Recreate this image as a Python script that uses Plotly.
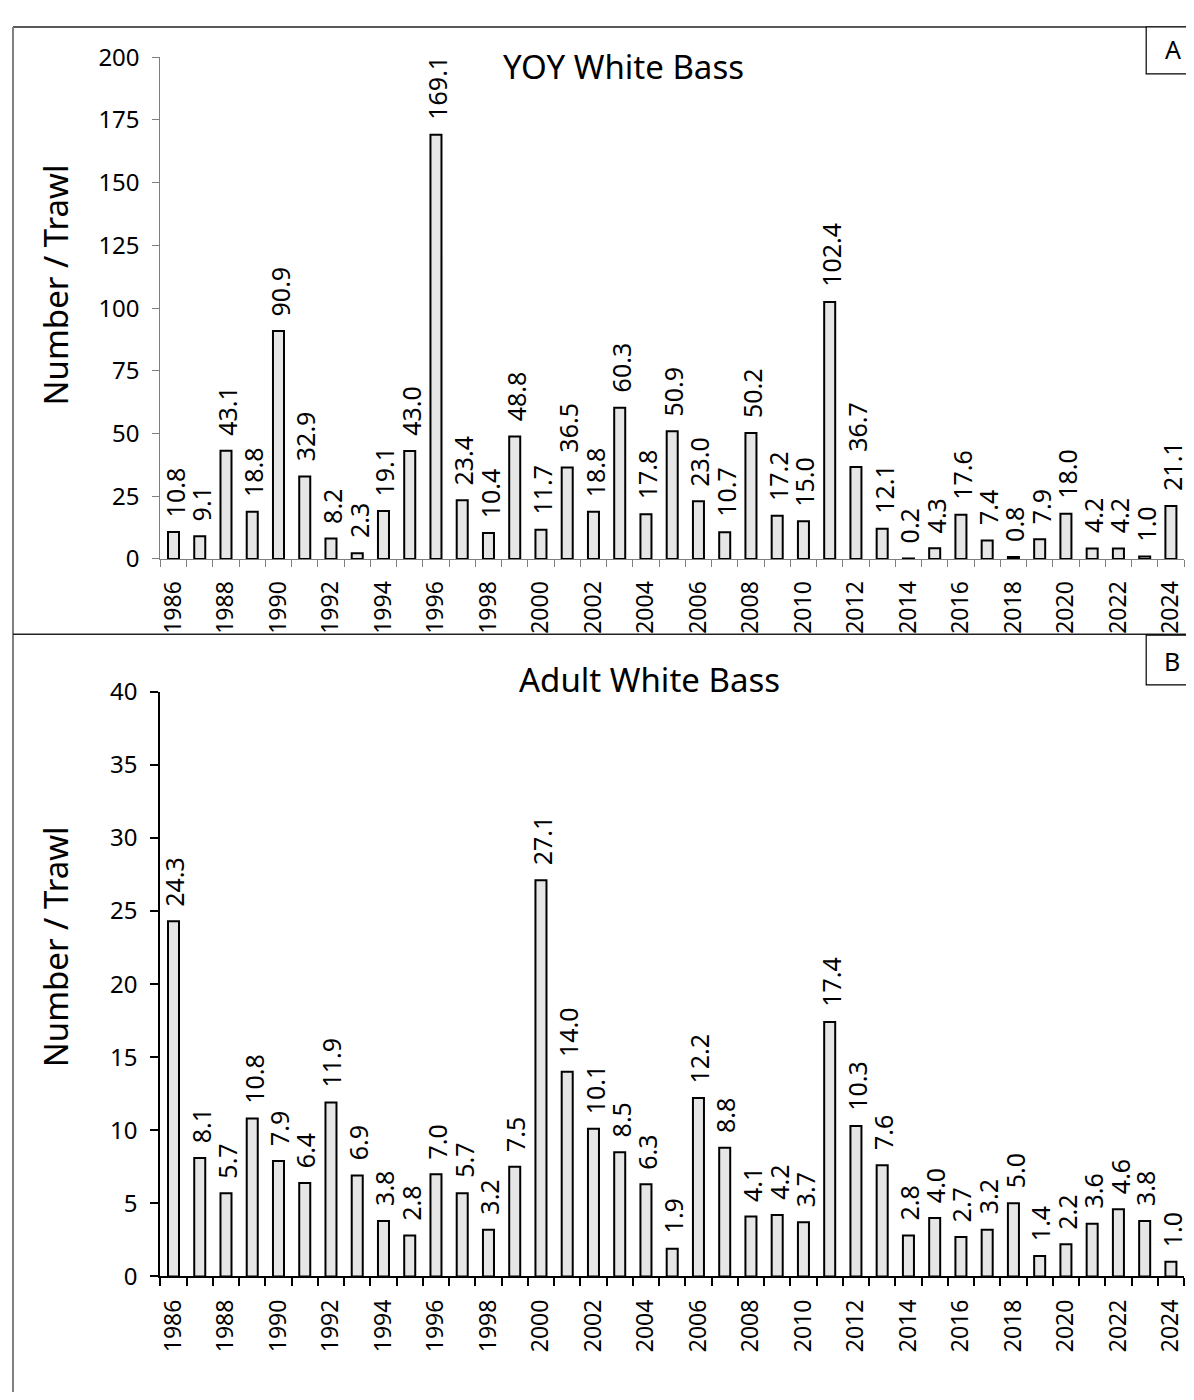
import plotly.graph_objects as go

years = list(range(1986, 2025))
yoy_values = [10.8, 9.1, 43.1, 18.8, 90.9, 32.9, 8.2, 2.3, 19.1, 43.0, 169.1, 23.4, 10.4, 48.8,
              11.7, 36.5, 18.8, 60.3, 17.8, 50.9, 23.0, 10.7, 50.2, 17.2, 15.0, 102.4, 36.7,
              12.1, 0.2, 4.3, 17.6, 7.4, 0.8, 7.9, 18.0, 4.2, 4.2, 1.0, 21.1]
adult_values = [24.3, 8.1, 5.7, 10.8, 7.9, 6.4, 11.9, 6.9, 3.8, 2.8, 7.0, 5.7, 3.2, 7.5,
                27.1, 14.0, 10.1, 8.5, 6.3, 1.9, 12.2, 8.8, 4.1, 4.2, 3.7, 17.4, 10.3,
                7.6, 2.8, 4.0, 2.7, 3.2, 5.0, 1.4, 2.2, 3.6, 4.6, 3.8, 1.0]
tick_years = list(range(1986, 2025, 2))
tick_labels = [str(y) for y in tick_years]
title_a = "YOY White Bass"
title_b = "Adult White Bass"
y_title = "Number / Trawl"

# page body has an 8px default margin; figure spans from there to the window edge
OFF = 8
W, H = 1194 - OFF, 1400 - 2 * OFF
FONT = "Noto Sans"


def fx(p):
    return (p - OFF) / W


def fy(p):
    return 1 - (p - OFF) / H


fig = go.Figure()
for vals, xa, ya in [(yoy_values, "x", "y"), (adult_values, "x2", "y2")]:
    fig.add_trace(go.Bar(
        x=years, y=vals, xaxis=xa, yaxis=ya, width=0.42,
        marker=dict(color="#e6e6e6", line=dict(color="black", width=2)),
        showlegend=False, hoverinfo="x+y",
    ))

annotations = []
for vals, xr, yr in [(yoy_values, "x", "y"), (adult_values, "x2", "y2")]:
    for yr_, v in zip(years, vals):
        annotations.append(dict(
            x=yr_, y=v, xref=xr, yref=yr, text=f"{v:.1f}", textangle=-90,
            showarrow=False, xanchor="center", yanchor="bottom", yshift=13, xshift=1,
            font=dict(family=FONT, size=25, color="black"),
        ))

annotations += [
    dict(x=fx(622), y=fy(50), xref="paper", yref="paper", text=title_a, showarrow=False,
         xanchor="center", yanchor="middle", font=dict(family=FONT, size=33, color="black")),
    dict(x=fx(648), y=fy(677), xref="paper", yref="paper", text=title_b, showarrow=False,
         xanchor="center", yanchor="middle", font=dict(family=FONT, size=33, color="black")),
    dict(x=fx(52), y=fy(273), xref="paper", yref="paper", text=y_title, showarrow=False,
         textangle=-90, xanchor="center", yanchor="middle",
         font=dict(family=FONT, size=33, color="black")),
    dict(x=fx(52), y=fy(951), xref="paper", yref="paper", text=y_title, showarrow=False,
         textangle=-90, xanchor="center", yanchor="middle",
         font=dict(family=FONT, size=33, color="black")),
    dict(x=fx(1174), y=fy(32), xref="paper", yref="paper", text="A", showarrow=False,
         xanchor="center", yanchor="middle", font=dict(family=FONT, size=25, color="black")),
    dict(x=fx(1173), y=fy(659), xref="paper", yref="paper", text="B", showarrow=False,
         xanchor="center", yanchor="middle", font=dict(family=FONT, size=25, color="black")),
]

shapes = [
    # panel frames
    dict(type="line", xref="paper", yref="paper", x0=fx(9), x1=fx(1200), y0=fy(9), y1=fy(9),
         line=dict(color="#595959", width=2)),
    dict(type="line", xref="paper", yref="paper", x0=fx(9), x1=fx(9), y0=fy(9), y1=fy(1410),
         line=dict(color="#7f7f7f", width=2)),
    dict(type="line", xref="paper", yref="paper", x0=fx(9), x1=fx(1200), y0=fy(631), y1=fy(631),
         line=dict(color="#222222", width=1.5)),
    # label boxes
    dict(type="rect", xref="paper", yref="paper", x0=fx(1147), x1=fx(1200), y0=fy(9), y1=fy(57),
         line=dict(color="black", width=1.2), fillcolor="white"),
    dict(type="rect", xref="paper", yref="paper", x0=fx(1147), x1=fx(1200), y0=fy(632), y1=fy(683),
         line=dict(color="black", width=1.2), fillcolor="white"),
]

xa_common = dict(
    range=[1985.5, 2024.5], tickmode="array", tickvals=tick_years, ticktext=tick_labels,
    tickangle=-90, ticks="", showgrid=False, zeroline=False, showline=True,
    tickfont=dict(family=FONT, size=23, color="black"), ticklabelstandoff=12,
    ticklabeloverflow="allow", domain=[fx(157), fx(1185)],
)
ya_common = dict(showgrid=False, zeroline=False, showline=True, ticks="outside",
                 tickfont=dict(family=FONT, size=24, color="black"), ticklabelstandoff=8)

fig.update_layout(
    width=W, height=H, autosize=False, margin=dict(l=0, r=0, t=0, b=0),
    paper_bgcolor="white", plot_bgcolor="white",
    font=dict(family=FONT, color="black"),
    xaxis=dict(**xa_common, anchor="y", linecolor="#7f7f7f", linewidth=1,
               minor=dict(tickmode="linear", tick0=1985.5, dtick=1, ticks="outside",
                          ticklen=7, tickwidth=1, tickcolor="#7f7f7f")),
    yaxis=dict(**ya_common, domain=[fy(554), fy(40)], range=[0, 200], dtick=25,
               anchor="x", linecolor="#7f7f7f", linewidth=1, ticklen=7, tickwidth=1,
               tickcolor="#7f7f7f"),
    xaxis2=dict(**xa_common, anchor="y2", linecolor="black", linewidth=2,
                minor=dict(tickmode="linear", tick0=1985.5, dtick=1, ticks="outside",
                           ticklen=8, tickwidth=2, tickcolor="black")),
    yaxis2=dict(**ya_common, domain=[fy(1289), fy(690)], range=[0, 40], dtick=5,
                anchor="x2", linecolor="black", linewidth=2, ticklen=8, tickwidth=2,
                tickcolor="black"),
    annotations=annotations, shapes=shapes,
)

fig.write_html("out.html")
